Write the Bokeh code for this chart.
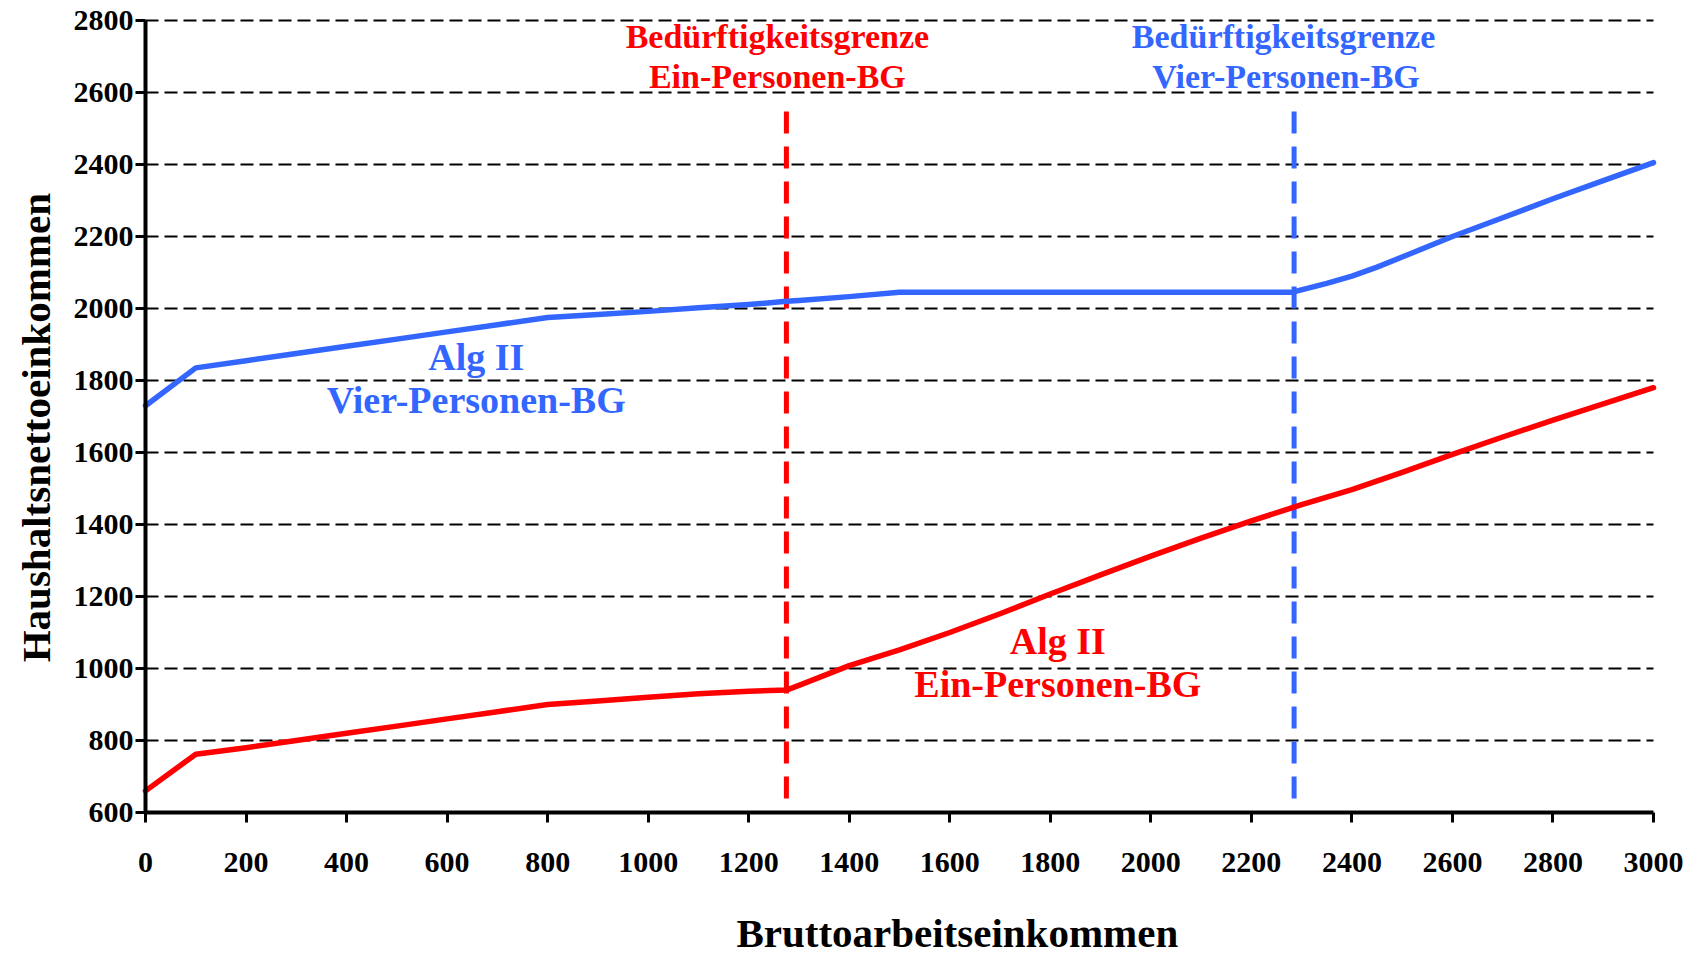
from bokeh.plotting import figure
from bokeh.models import Range1d, FixedTicker, Label
from bokeh.embed import file_html
from bokeh.resources import INLINE

# ---- data ----
x_ein = [0, 100, 200, 300, 400, 500, 600, 700, 800, 900, 1000, 1100, 1200, 1275,
         1300, 1400, 1500, 1600, 1700, 1800, 1900, 2000, 2100, 2200, 2300, 2400,
         2500, 2600, 2700, 2800, 2900, 3000]
y_ein = [660, 762, 780, 800, 820, 840, 860, 880, 900, 910, 920, 930, 937, 940,
         953, 1008, 1052, 1100, 1152, 1207, 1260, 1312, 1362, 1410, 1455, 1497,
         1545, 1595, 1643, 1690, 1735, 1780]

x_vier = [0, 100, 200, 300, 400, 500, 600, 700, 800, 900, 1000, 1100, 1200, 1275,
          1300, 1400, 1500, 1600, 1700, 1800, 1900, 2000, 2100, 2200, 2280,
          2350, 2400, 2450, 2500, 2600, 2700, 2800, 2900, 3000]
y_vier = [1730, 1835, 1855, 1875, 1895, 1915, 1935, 1955, 1975, 1983, 1992, 2002, 2011, 2020,
          2022, 2033, 2045, 2045, 2045, 2045, 2045, 2045, 2045, 2045, 2045,
          2070, 2090, 2115, 2143, 2200, 2252, 2305, 2355, 2405]

grenze_x = [1275, 2285]
grenze_top = [2547, 2547]

x_ticks = list(range(0, 3001, 200))
y_ticks = list(range(600, 2801, 200))

x_title = "Bruttoarbeitseinkommen"
y_title = "Haushaltsnettoeinkommen"

RED = "#FF0000"
BLUE = "#3366FF"
SERIF = "Liberation Serif"

# plot area occupies x 145..1653 px and y 20..812 px of the 1695x956 canvas;
# the ranges are widened so that the axis titles can live inside the frame
PX_X = 1508 / 3000.0
PX_Y = 792 / 2200.0
x_range = Range1d(x_ticks[0] - 145 / PX_X, x_ticks[-1] + 42 / PX_X)
y_range = Range1d(y_ticks[0] - 144 / PX_Y, y_ticks[-1] + 20 / PX_Y)

p = figure(width=1695, height=956, output_backend="svg", toolbar_location=None,
           x_range=x_range, y_range=y_range,
           min_border_left=0, min_border_right=0, min_border_top=0, min_border_bottom=0)
p.outline_line_color = None
p.background_fill_color = "white"
p.xgrid.visible = False
p.ygrid.visible = False

xa = p.xaxis[0]
ya = p.yaxis[0]
xa.fixed_location = y_ticks[0]
ya.fixed_location = x_ticks[0]
xa.bounds = (x_ticks[0], x_ticks[-1])
ya.bounds = (y_ticks[0], y_ticks[-1])

for ax in (xa, ya):
    ax.axis_line_width = 4
    ax.axis_line_color = "black"
    ax.major_tick_line_width = 3
    ax.major_tick_in = 0
    ax.major_tick_out = 10
    ax.minor_tick_line_color = None
    ax.major_label_text_font = SERIF
    ax.major_label_text_font_style = "bold"
    ax.major_label_text_font_size = "30px"
    ax.major_label_text_color = "black"

xa.ticker = FixedTicker(ticks=x_ticks)
ya.ticker = FixedTicker(ticks=y_ticks)
xa.major_label_standoff = 30
ya.major_label_standoff = 2

# horizontal dashed grid lines at the y ticks
gy = y_ticks[1:]
p.segment(x0=[x_ticks[0]] * len(gy), y0=gy, x1=[x_ticks[-1]] * len(gy), y1=gy,
          line_color="black", line_width=1.8, line_dash="13 6")

# vertical boundary lines
p.segment(x0=[grenze_x[0]], y0=[grenze_top[0]], x1=[grenze_x[0]], y1=[y_ticks[0]],
          line_color=RED, line_width=5, line_dash="22 13")
p.segment(x0=[grenze_x[1]], y0=[grenze_top[1]], x1=[grenze_x[1]], y1=[y_ticks[0]],
          line_color=BLUE, line_width=5, line_dash="22 13")

# series
p.line(x_vier, y_vier, line_color=BLUE, line_width=5.5, line_join="round", line_cap="round")
p.line(x_ein, y_ein, line_color=RED, line_width=5.5, line_join="round", line_cap="round")

def lab(txt, x, y, color, size, angle=0.0):
    p.add_layout(Label(x=x, y=y, text=txt, text_color=color, text_font=SERIF,
                       text_font_style="bold", text_font_size=size, angle=angle,
                       text_align="center", text_baseline="alphabetic"))

lab("Bedürftigkeitsgrenze", 1257, 2756, RED, "34px")
lab("Ein-Personen-BG", 1257, 2645, RED, "34px")
lab("Bedürftigkeitsgrenze", 2264, 2756, BLUE, "34px")
lab("Vier-Personen-BG", 2269, 2645, BLUE, "34px")
lab("Alg II", 658, 1865, BLUE, "38px")
lab("Vier-Personen-BG", 658, 1745, BLUE, "38px")
lab("Alg II", 1815, 1076, RED, "38px")
lab("Ein-Personen-BG", 1815, 956, RED, "38px")

# axis titles
lab(x_title, 1615, 264, "black", "41px")
lab(y_title, -217, 1669, "black", "41px", angle=1.5707963267948966)

open("out.html", "w").write(file_html(p, INLINE))
